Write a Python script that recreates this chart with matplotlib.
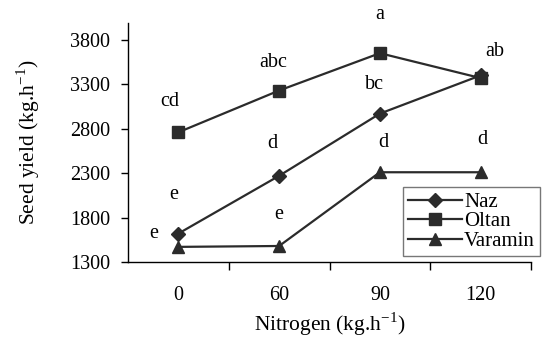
import matplotlib
matplotlib.use("Agg")
import matplotlib.pyplot as plt
from matplotlib.ticker import FixedLocator, NullFormatter, FixedFormatter

plt.rcParams['font.family'] = ['Liberation Serif', 'DejaVu Serif']

categories = ["0", "60", "90", "120"]
naz = [1620, 2270, 2970, 3400]
oltan = [2760, 3230, 3650, 3370]
varamin = [1470, 1480, 2310, 2310]
y_ticks = [1300, 1800, 2300, 2800, 3300, 3800]

# significance letters: (text, x, y)
letters = [
    ("a", 2.0, 4080), ("ab", 3.14, 3665), ("abc", 0.94, 3550), ("cd", -0.09, 3110),
    ("bc", 1.95, 3300), ("d", 0.93, 2630), ("d", 2.03, 2650), ("d", 3.02, 2675),
    ("e", -0.05, 2055), ("e", -0.24, 1615), ("e", 1.0, 1840),
]

fig = plt.figure(figsize=(5.48, 3.37), dpi=100)
ax = fig.add_axes([0.2336, 0.2226, 0.969 - 0.2336, 0.9318 - 0.2226])

x = list(range(len(categories)))
col = "#2b2b2b"
l1, = ax.plot(x, naz, marker="D", color=col, lw=1.6, ms=7, label="Naz")
l2, = ax.plot(x, oltan, marker="s", color=col, lw=1.6, ms=8, label="Oltan")
l3, = ax.plot(x, varamin, marker="^", color=col, lw=1.6, ms=9, label="Varamin")

for t, xx, yy in letters:
    ax.text(xx, yy, t, ha="center", va="center", fontsize=14.5, clip_on=False)

ax.set_xlim(-0.5, 3.5)
ax.set_ylim(1300, 3990)
ax.set_yticks(y_ticks)
ax.set_yticklabels([str(v) for v in y_ticks], fontsize=14.5)
ax.xaxis.set_major_locator(FixedLocator([0.5, 1.5, 2.5, 3.5]))
ax.xaxis.set_major_formatter(NullFormatter())
ax.xaxis.set_minor_locator(FixedLocator(x))
ax.xaxis.set_minor_formatter(FixedFormatter(categories))
ax.tick_params(axis="x", which="minor", length=0, labelsize=14.5, pad=17)
ax.tick_params(axis="x", which="major", length=6, width=1, direction="out")
ax.tick_params(axis="y", length=5, width=1, direction="out", pad=8)
for s in ["top", "right"]:
    ax.spines[s].set_visible(False)
for s in ["left", "bottom"]:
    ax.spines[s].set_linewidth(1)
    ax.spines[s].set_color("black")

ax.set_ylabel("Seed yield (kg.h$^{\\mathregular{-1}}$)", fontsize=15.5, labelpad=20)
ax.set_xlabel("Nitrogen (kg.h$^{\\mathregular{-1}}$)", fontsize=15.5, labelpad=4)

leg = fig.legend(handles=[l1, l2, l3], loc="upper left",
                 bbox_to_anchor=(0.735, 0.445), fontsize=15, frameon=True,
                 fancybox=False, edgecolor="#555555", handlelength=2.6,
                 handletextpad=0.1, labelspacing=0.0, borderpad=0.25,
                 borderaxespad=0)
leg.get_frame().set_linewidth(1)

fig.savefig("out.png", dpi=100)
